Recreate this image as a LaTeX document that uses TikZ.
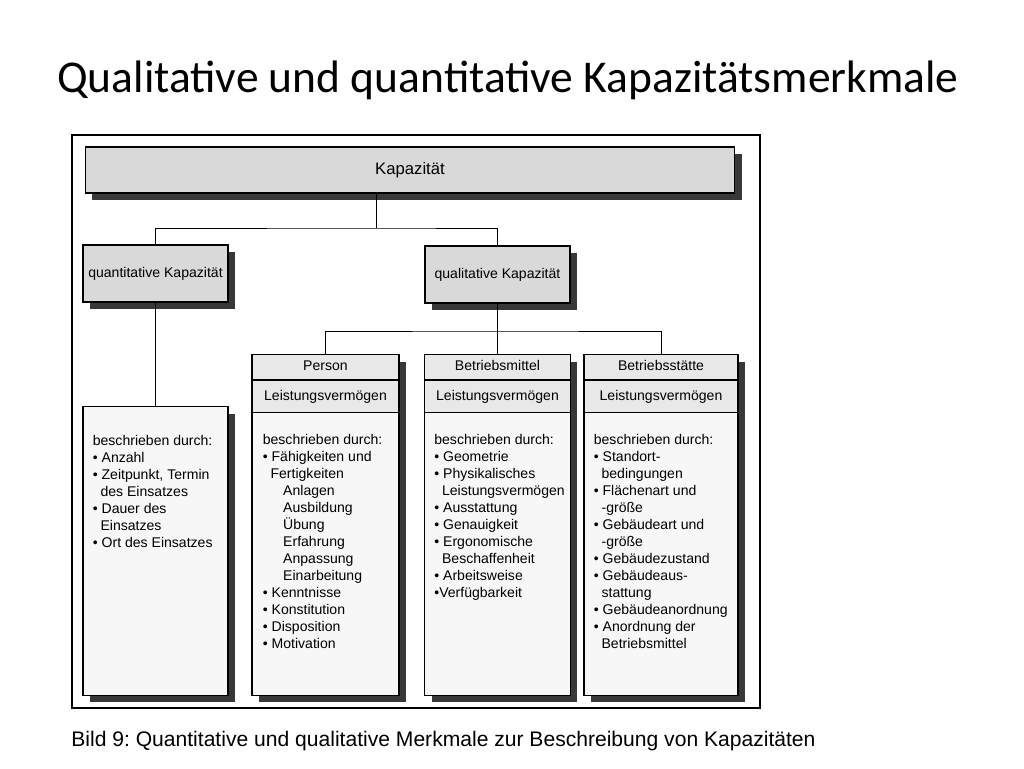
\documentclass[tikz,border=0pt]{standalone}
\usepackage{fontspec}
\setmainfont{Liberation Sans}
\newfontfamily\titlefont{Carlito}
\usetikzlibrary{shadows,positioning}
\frenchspacing

\tikzset{
  dropsh/.style={drop shadow={shadow xshift=0.14cm, shadow yshift=-0.14cm, opacity=1, fill=black!78}},
  topbox/.style={draw=black, line width=0.6pt, fill=black!15, align=center, inner sep=0pt, dropsh},
  colbox/.style={draw=black, line width=0.6pt, fill=black!3, inner sep=0pt, anchor=north, dropsh},
  headbox/.style={draw=black, line width=0.6pt, fill=black!9, inner sep=0pt, anchor=north, text height=6pt, text depth=1.8pt, font=\fontsize{8}{9.6}\selectfont},
  bodytext/.style={anchor=north west, align=left, inner sep=0pt, font=\fontsize{8}{9.65}\selectfont},
  conn/.style={draw=black, line width=0.5pt}
}
\newcommand\ind{\hspace*{0.55em}}
\newcommand\sub{\hspace*{1.45em}}

\begin{document}
\begin{tikzpicture}[x=0.02cm, y=-0.02cm]
    \useasboundingbox (0,0) rectangle (1024,768);
    \fill[white] (0,0) rectangle (1024,768);

    \node[anchor=base west, inner sep=0pt, font=\titlefont\fontsize{25.9}{30}\selectfont] (title) at (57,92) {Qualitative und quantitative Kapazitätsmerkmale};

    %frame
    \draw[line width=1.1pt] (72,135) rectangle (760,708);

    %upper boxes
    \node[topbox, minimum width=13cm, minimum height=0.92cm, font=\fontsize{9.5}{11}\selectfont] (kap) at (410,170) {Kapazität};
    \node[topbox, minimum width=2.9cm, minimum height=1.14cm, font=\fontsize{8}{9.6}\selectfont] (quant) at (155.5,273.5) {quantitative Kapazität};
    \node[topbox, minimum width=2.9cm, minimum height=1.14cm, font=\fontsize{8}{9.6}\selectfont] (qual) at (497.5,274.5) {qualitative Kapazität};

    %left column
    \node[colbox, minimum width=2.9cm, minimum height=5.78cm] (anz) at (155.5,406) {};
    \node[bodytext, below right=0.58cm and 0.2cm of anz.north west] (anzT) {beschrieben durch:\\
      • Anzahl\\
      • Zeitpunkt, Termin\\
      \ind des Einsatzes\\
      • Dauer des\\
      \ind Einsatzes\\
      • Ort des Einsatzes};

    %Person
    \node[colbox, minimum width=2.94cm, minimum height=6.82cm] (persC) at (325.5,354) {};
    \node[headbox, minimum width=2.94cm, minimum height=0.5cm] (persH) at (persC.north) {Person};
    \node[headbox, minimum width=2.94cm, minimum height=0.64cm, below=0pt of persH] (persL) {Leistungsvermögen};
    \node[bodytext, below right=0.42cm and 0.22cm of persL.south west] (persT) {beschrieben durch:\\
      • Fähigkeiten und\\
      \ind Fertigkeiten\\
      \sub Anlagen\\
      \sub Ausbildung\\
      \sub Übung\\
      \sub Erfahrung\\
      \sub Anpassung\\
      \sub Einarbeitung\\
      • Kenntnisse\\
      • Konstitution\\
      • Disposition\\
      • Motivation};

    %Betriebsmittel
    \node[colbox, minimum width=2.92cm, minimum height=6.82cm] (bmC) at (497.5,354) {};
    \node[headbox, minimum width=2.92cm, minimum height=0.5cm] (bmH) at (bmC.north) {Betriebsmittel};
    \node[headbox, minimum width=2.92cm, minimum height=0.64cm, below=0pt of bmH] (bmL) {Leistungsvermögen};
    \node[bodytext, below right=0.42cm and 0.2cm of bmL.south west] (bmT) {beschrieben durch:\\
      • Geometrie\\
      • Physikalisches\\
      \ind Leistungsvermögen\\
      • Ausstattung\\
      • Genauigkeit\\
      • Ergonomische\\
      \ind Beschaffenheit\\
      • Arbeitsweise\\
      •Verfügbarkeit};

    %Betriebsstaette
    \node[colbox, minimum width=3.08cm, minimum height=6.82cm] (stC) at (661,354) {};
    \node[headbox, minimum width=3.08cm, minimum height=0.5cm] (stH) at (stC.north) {Betriebsstätte};
    \node[headbox, minimum width=3.08cm, minimum height=0.64cm, below=0pt of stH] (stL) {Leistungsvermögen};
    \node[bodytext, below right=0.42cm and 0.2cm of stL.south west] (stT) {beschrieben durch:\\
      • Standort-\\
      \ind bedingungen\\
      • Flächenart und\\
      \ind -größe\\
      • Gebäudeart und\\
      \ind -größe\\
      • Gebäudezustand\\
      • Gebäudeaus-\\
      \ind stattung\\
      • Gebäudeanordnung\\
      • Anordnung der\\
      \ind Betriebsmittel};

    %edges
    \coordinate (j1) at (376,228);
    \coordinate (j2) at (497.5,331);
    \draw[conn] (kap.south -| j1) -- (j1);
    \draw[conn] (quant.north) |- (j1) -| (qual.north);
    \draw[conn] (quant.south) -- (anz.north);
    \draw[conn] (qual.south) -- (bmH.north);
    \draw[conn] (persH.north) |- (j2) -| (stH.north);

    \node[anchor=base west, inner sep=0pt, font=\fontsize{12}{14}\selectfont] (cap) at (71,746) {Bild 9: Quantitative und qualitative Merkmale zur Beschreibung von Kapazitäten};

\end{tikzpicture}
\end{document}
